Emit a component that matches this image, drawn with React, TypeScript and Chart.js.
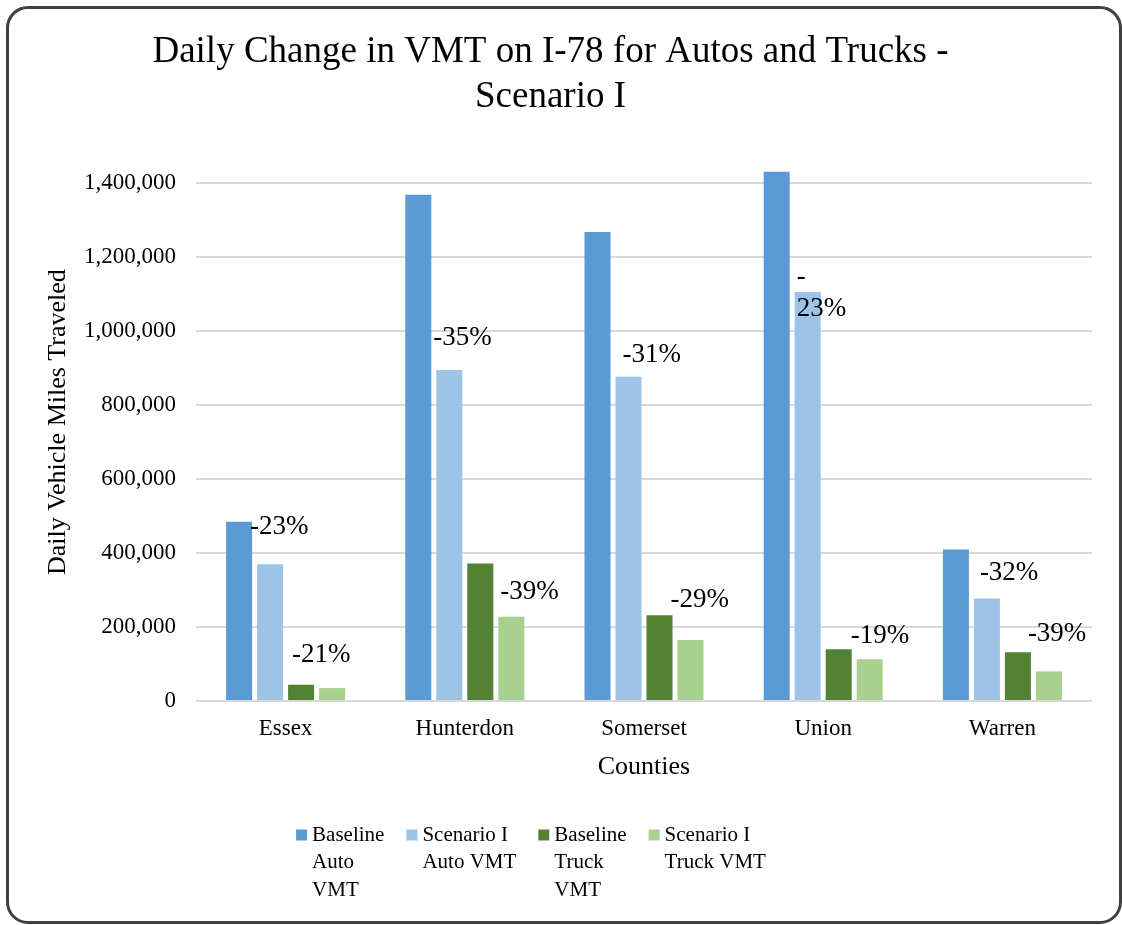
import React, { useEffect, useRef } from "react";
import { Chart, registerables } from "chart.js";

Chart.register(...registerables);

const FONT = '"Liberation Serif", "Times New Roman", serif';

const titleLines = ["Daily Change in VMT on I-78 for Autos and Trucks -", "Scenario I"];
const yAxisTitle = "Daily Vehicle Miles Traveled";
const xAxisTitle = "Counties";

const counties = ["Essex", "Hunterdon", "Somerset", "Union", "Warren"];
const baselineAuto = [485000, 1369000, 1268000, 1431000, 410000];
const scenarioAuto = [370000, 895000, 877000, 1106000, 277000];
const baselineTruck = [44000, 372000, 232000, 140000, 132000];
const scenarioTruck = [35000, 228000, 165000, 113000, 80000];

const autoChange = ["-23%", "-35%", "-31%", "-23%", "-32%"];
const truckChange = ["-21%", "-39%", "-29%", "-19%", "-39%"];

const yTicks = [0, 200000, 400000, 600000, 800000, 1000000, 1200000, 1400000];

const seriesLegend = [
  ["Baseline", "Auto", "VMT"],
  ["Scenario I", "Auto VMT"],
  ["Baseline", "Truck", "VMT"],
  ["Scenario I", "Truck VMT"],
];

const seriesColors = ["#5B9BD5", "#9DC3E6", "#548235", "#A9D18E"];

// label nudges (px) relative to the bar's top-left corner (styling only)
const autoLabelNudge = [
  { dx: -7, dy: -37, wrap: false },
  { dx: -3, dy: -32, wrap: false },
  { dx: 7, dy: -22, wrap: false },
  { dx: 2, dy: 1, wrap: true },
  { dx: 6, dy: -26, wrap: false },
];
const truckLabelNudge = [
  { dx: -27, dy: -33, wrap: false },
  { dx: 2, dy: -25, wrap: false },
  { dx: -7, dy: -40, wrap: false },
  { dx: -6, dy: -23, wrap: false },
  { dx: -8, dy: -38, wrap: false },
];

const pctLabelPlugin = {
  id: "pctLabels",
  afterDatasetsDraw(chart: any) {
    const ctx = chart.ctx;
    ctx.save();
    ctx.font = `27px ${FONT}`;
    ctx.fillStyle = "#000";
    ctx.textBaseline = "middle";
    ctx.textAlign = "left";
    const groups: [number, string[], any[]][] = [
      [1, autoChange, autoLabelNudge],
      [3, truckChange, truckLabelNudge],
    ];
    groups.forEach(([di, texts, nudges]) => {
      const meta = chart.getDatasetMeta(di);
      meta.data.forEach((bar: any, i: number) => {
        const { x, y, width } = bar.getProps(["x", "y", "width"], true);
        const left = x - width / 2;
        const n = nudges[i];
        const t = texts[i];
        const lines = n.wrap ? [t.slice(0, 1), t.slice(1)] : [t];
        const lh = 31.6;
        lines.forEach((ln: string, k: number) => {
          ctx.fillText(ln, left + n.dx, y + n.dy + (k - (lines.length - 1) / 2) * lh);
        });
      });
    });
    ctx.restore();
  },
};

const yTitlePlugin = {
  id: "yTitle",
  afterDraw(chart: any) {
    const ctx = chart.ctx;
    const ca = chart.chartArea;
    ctx.save();
    ctx.font = `26px ${FONT}`;
    ctx.fillStyle = "#000";
    ctx.textAlign = "center";
    ctx.textBaseline = "middle";
    ctx.translate(49, (ca.top + ca.bottom) / 2 - 20);
    ctx.rotate(-Math.PI / 2);
    ctx.fillText(yAxisTitle, 0, 0);
    ctx.restore();
  },
};

const legendPlugin = {
  id: "customLegend",
  afterDraw(chart: any) {
    const ctx = chart.ctx;
    ctx.save();
    ctx.font = `21px ${FONT}`;
    ctx.fillStyle = "#000";
    ctx.textAlign = "left";
    ctx.textBaseline = "middle";
    const box = 11;
    const gapText = 5;
    const gapItem = 22;
    const lh = 27.5;
    const widths = seriesLegend.map((lines) =>
      Math.max(...lines.map((l) => ctx.measureText(l).width))
    );
    const itemW = widths.map((w) => box + gapText + w);
    const total = itemW.reduce((a, b) => a + b, 0) + gapItem * (itemW.length - 1);
    let cx = chart.width / 2 - 33 - total / 2;
    const y0 = chart.chartArea.bottom + 134;
    seriesLegend.forEach((lines, i) => {
      ctx.fillStyle = seriesColors[i];
      ctx.fillRect(cx, y0 - box / 2, box, box);
      ctx.fillStyle = "#000";
      lines.forEach((l, k) => ctx.fillText(l, cx + box + gapText, y0 + k * lh));
      cx += itemW[i] + gapItem;
    });
    ctx.restore();
  },
};

export default function App() {
  const ref = useRef<HTMLCanvasElement | null>(null);

  useEffect(() => {
    if (!ref.current) return;
    const seriesData = [baselineAuto, scenarioAuto, baselineTruck, scenarioTruck];
    const chart = new Chart(ref.current, {
      type: "bar",
      data: {
        labels: counties,
        datasets: seriesData.map((d, i) => ({
          label: seriesLegend[i].join(" "),
          data: d,
          backgroundColor: seriesColors[i],
          borderWidth: 0,
          categoryPercentage: 0.692,
          barPercentage: 0.84,
          clip: false as any,
        })),
      },
      options: {
        animation: false,
        responsive: false,
        devicePixelRatio: 1,
        layout: { padding: { left: 0, right: 27, top: 19, bottom: 138 } },
        plugins: {
          legend: { display: false },
          tooltip: { enabled: false },
          title: {
            display: true,
            text: titleLines,
            color: "#000",
            font: { family: FONT, size: 37, weight: "normal", lineHeight: 1.22 },
            padding: { top: 2, bottom: 63 },
          },
        },
        scales: {
          x: {
            afterFit: (scale: any) => {
              scale.height = 82;
            },
            grid: { display: false, drawTicks: false },
            border: { display: false },
            ticks: { color: "#000", padding: 14, font: { family: FONT, size: 23 } },
            title: {
              display: true,
              text: xAxisTitle,
              color: "#000",
              font: { family: FONT, size: 26 },
              padding: { top: 9, bottom: 0 },
            },
          },
          y: {
            min: 0,
            max: 1400000,
            afterBuildTicks: (scale: any) => {
              scale.ticks = yTicks.map((v) => ({ value: v }));
            },
            afterFit: (scale: any) => {
              scale.width = 187;
            },
            grid: { color: "#d9d9d9", lineWidth: 2, drawTicks: false },
            border: { display: false },
            ticks: {
              color: "#000",
              padding: 20,
              font: { family: FONT, size: 23 },
              callback: (v: any) => Number(v).toLocaleString("en-US"),
            },
          },
        },
      },
      plugins: [pctLabelPlugin, yTitlePlugin, legendPlugin],
    });
    return () => chart.destroy();
  }, []);

  return (
    <div
      style={{
        position: "absolute",
        left: 6,
        top: 6,
        width: 1116,
        height: 918,
        boxSizing: "border-box",
        border: "3px solid #404040",
        borderRadius: 22,
        background: "#fff",
        overflow: "hidden",
      }}
    >
      <canvas ref={ref} width={1110} height={912} style={{ display: "block" }} />
    </div>
  );
}
